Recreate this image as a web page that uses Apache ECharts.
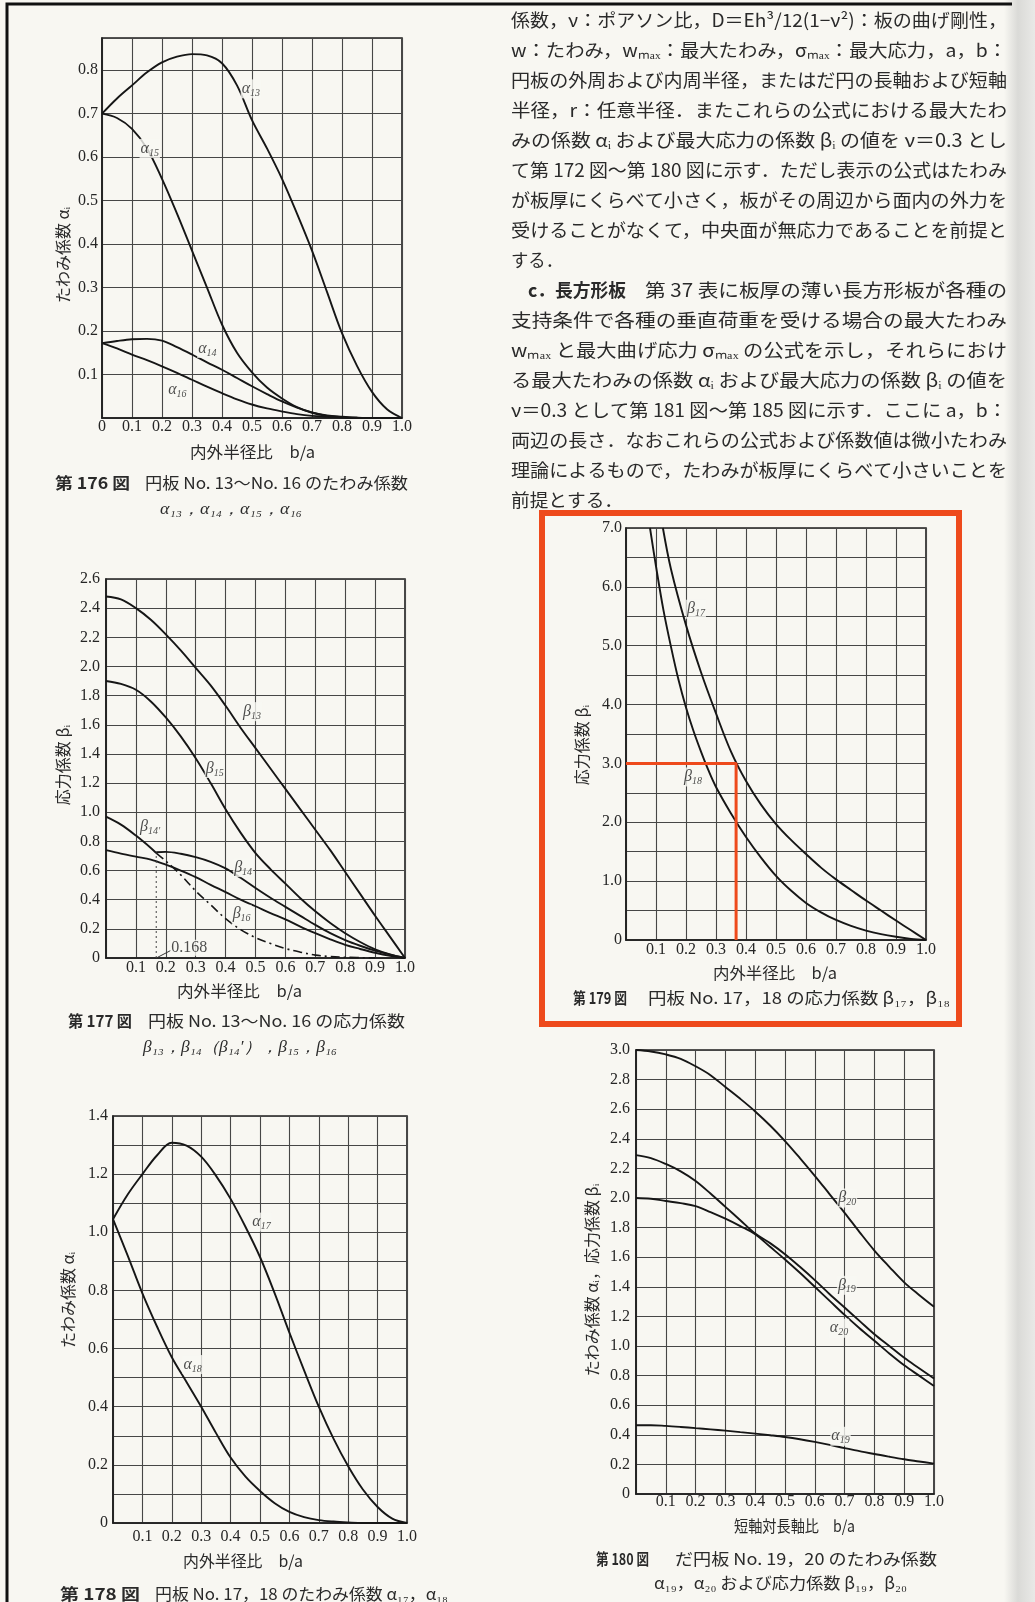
<!DOCTYPE html>
<html><head><meta charset="utf-8">
<script src="https://cdn.jsdelivr.net/npm/echarts@6/dist/echarts.min.js"></script>
<style>html,body{margin:0;padding:0;background:#f7f6f1;}#c{width:1035px;height:1602px;}</style>
</head><body><div id="c"></div>
<script>
// ================= DATA =================
const X = [0,0.05,0.1,0.15,0.2,0.25,0.3,0.35,0.4,0.45,0.5,0.55,0.6,0.65,0.7,0.75,0.8,0.85,0.9,0.95,1.0];

// Fig.176  deflection coefficients α13..α16
const a13 = [0.700,0.735,0.765,0.795,0.818,0.831,0.837,0.834,0.816,0.765,0.685,0.620,0.550,0.470,0.385,0.290,0.195,0.120,0.060,0.020,0];
const a15 = [0.700,0.690,0.665,0.620,0.550,0.470,0.385,0.300,0.215,0.150,0.105,0.070,0.045,0.025,0.012,0.005,0.002,0,0,0,0];
const a14 = [0.172,0.177,0.181,0.182,0.178,0.163,0.146,0.128,0.111,0.092,0.073,0.055,0.038,0.024,0.013,0.006,0.003,0.001,0,0,0];
const a16 = [0.172,0.160,0.146,0.133,0.119,0.104,0.088,0.072,0.057,0.043,0.031,0.022,0.015,0.009,0.005,0.003,0.001,0,0,0,0];

// Fig.177  stress coefficients β13..β16
const b13 = [2.48,2.46,2.40,2.32,2.22,2.11,1.99,1.87,1.73,1.58,1.44,1.30,1.16,1.02,0.88,0.74,0.59,0.44,0.29,0.145,0];
const b15 = [1.90,1.88,1.84,1.76,1.65,1.52,1.37,1.20,1.02,0.86,0.72,0.61,0.51,0.41,0.32,0.24,0.17,0.11,0.06,0.025,0];
const b16 = [0.74,0.716,0.695,0.675,0.64,0.60,0.555,0.502,0.452,0.40,0.355,0.308,0.265,0.215,0.17,0.128,0.09,0.062,0.036,0.015,0];
const X14s = [0,0.05,0.1,0.15,0.168];
const b14s = [0.97,0.915,0.84,0.755,0.72];           // β14' (valid part)
const X14d = [0.168,0.2,0.25,0.3,0.35,0.4,0.45,0.5,0.55,0.6,0.65,0.7,0.75,0.8,0.9];
const b14d = [0.72,0.665,0.57,0.46,0.365,0.27,0.195,0.14,0.10,0.065,0.04,0.02,0.01,0.005,0]; // β14' continuation
const X14 = [0.168,0.2,0.25,0.3,0.35,0.4,0.45,0.5,0.55,0.6,0.65,0.7,0.75,0.8,0.85,0.9,0.95,1.0];
const b14 = [0.725,0.728,0.715,0.692,0.66,0.615,0.55,0.48,0.413,0.351,0.289,0.227,0.17,0.123,0.084,0.05,0.023,0];
const limit168 = 0.168;

// Fig.178  deflection coefficients α17, α18
const a17 = [1.045,1.13,1.20,1.265,1.308,1.298,1.26,1.195,1.115,1.02,0.915,0.79,0.655,0.525,0.40,0.29,0.195,0.115,0.055,0.015,0];
const a18 = [1.045,0.92,0.79,0.675,0.57,0.485,0.40,0.31,0.225,0.16,0.11,0.068,0.038,0.02,0.01,0.005,0.002,0,0,0,0];

// Fig.179  stress coefficients β17, β18
const X17 = [0.123,0.15,0.2,0.25,0.3,0.35,0.4,0.45,0.5,0.55,0.6,0.65,0.7,0.75,0.8,0.85,0.9,0.95,1.0];
const b17 = [7.0,6.3,5.35,4.55,3.85,3.2,2.7,2.3,1.97,1.7,1.46,1.23,1.03,0.85,0.67,0.5,0.33,0.165,0];
const X18 = [0.08,0.1,0.125,0.15,0.175,0.2,0.225,0.25,0.275,0.3,0.35,0.4,0.45,0.5,0.55,0.6,0.65,0.7,0.75,0.8,0.85,0.9,0.95,1.0];
const b18 = [7.0,6.35,5.6,4.98,4.42,3.95,3.55,3.2,2.88,2.6,2.15,1.75,1.4,1.09,0.84,0.63,0.47,0.34,0.24,0.16,0.10,0.055,0.02,0];
const readX = [0,0.367,0.367];
const readY = [3.0,3.0,0];

// Fig.180  elliptic plate α19, α20, β19, β20
const b20 = [3.0,2.99,2.97,2.94,2.89,2.83,2.75,2.67,2.585,2.49,2.385,2.27,2.15,2.025,1.9,1.77,1.645,1.535,1.43,1.345,1.265];
const b19 = [2.29,2.27,2.23,2.18,2.115,2.03,1.94,1.85,1.76,1.695,1.62,1.535,1.445,1.35,1.26,1.17,1.08,1.0,0.92,0.85,0.78];
const a20 = [2.0,1.995,1.98,1.965,1.945,1.905,1.86,1.81,1.755,1.67,1.585,1.495,1.40,1.305,1.21,1.12,1.035,0.95,0.87,0.80,0.73];
const a19 = [0.465,0.465,0.46,0.453,0.445,0.437,0.428,0.418,0.408,0.397,0.385,0.37,0.352,0.332,0.31,0.29,0.27,0.252,0.235,0.22,0.205];

// curve labels [greek, subscript, x, y]
const lab176 = [['α','13',0.462,0.757],['α','15',0.125,0.62],['α','14',0.317,0.16],['α','16',0.217,0.065]];
const lab177 = [['β','13',0.455,1.69],['β','15',0.33,1.30],['β','14′',0.11,0.90],['β','14',0.425,0.62],['β','16',0.42,0.30]];
const lab178 = [['α','17',0.47,1.035],['α','18',0.236,0.545]];
const lab179 = [['β','17',0.20,5.62],['β','18',0.19,2.77]];
const lab180 = [['β','20',0.675,2.0],['β','19',0.674,1.41],['α','20',0.647,1.12],['α','19',0.652,0.39]];

// ================= TEXT =================
const para = [
 '係数，ν：ポアソン比，D＝Eh³/12(1−ν²)：板の曲げ剛性，',
 'w：たわみ，wₘₐₓ：最大たわみ，σₘₐₓ：最大応力，a，b：',
 '円板の外周および内周半径，またはだ円の長軸および短軸',
 '半径，r：任意半径．またこれらの公式における最大たわ',
 'みの係数 αᵢ および最大応力の係数 βᵢ の値を ν＝0.3 とし',
 'て第 172 図～第 180 図に示す．ただし表示の公式はたわみ',
 'が板厚にくらべて小さく，板がその周辺から面内の外力を',
 '受けることがなくて，中央面が無応力であることを前提と',
 'する．',
 '第 37 表に板厚の薄い長方形板が各種の',
 '支持条件で各種の垂直荷重を受ける場合の最大たわみ',
 'wₘₐₓ と最大曲げ応力 σₘₐₓ の公式を示し，それらにおけ',
 'る最大たわみの係数 αᵢ および最大応力の係数 βᵢ の値を',
 'ν＝0.3 として第 181 図～第 185 図に示す．ここに a，b：',
 '両辺の長さ．なおこれらの公式および係数値は微小たわみ',
 '理論によるもので，たわみが板厚にくらべて小さいことを',
 '前提とする．'
];
const headC = 'c．長方形板';

// ================= BUILD =================
const PAPER = '#f8f7f2', INK = '#161616', GRIDC = '#474747';
const zip = (xs, ys) => xs.map((x, i) => [x, ys[i]]);
const cv = document.createElement('canvas').getContext('2d');
const JP = '"Noto Sans CJK JP"', SERIF = '"Liberation Serif","DejaVu Serif",serif';

function textEl(str, x, y, o) {
  o = o || {};
  const font = (o.fstyle || 'normal') + ' ' + (o.weight || 'normal') + ' ' + (o.size || 16) + 'px ' + (o.family || JP);
  let sx = 1;
  if (o.width) { cv.font = font; sx = o.width / cv.measureText(str).width; }
  const al = o.align || 'left';
  return { type: 'text', x: x, y: y, rotation: o.rot || 0, scaleX: sx, scaleY: 1, originX: 0, originY: 0,
    silent: true, z: 50,
    style: { text: str, font: font, fill: o.color || '#2a2a2a', align: al, textAlign: al,
             verticalAlign: 'middle', textVerticalAlign: 'middle' } };
}

const grids = [
  { left: 102, top: 38,   width: 300, height: 380 }, // 176
  { left: 106, top: 579,  width: 299, height: 379 }, // 177
  { left: 113, top: 1116, width: 294, height: 407 }, // 178
  { left: 626, top: 528,  width: 300, height: 412 }, // 179
  { left: 636, top: 1050, width: 298, height: 444 }  // 180
].map(g => Object.assign(g, { show: true, borderColor: '#1e1e1e', borderWidth: 1.6, backgroundColor: 'transparent', outerBoundsMode: 'none', containLabel: false }));

function xAx(gi, showZero, margin) {
  return { type: 'value', gridIndex: gi, min: 0, max: 1, interval: 0.1,
    axisLine: { show: true, lineStyle: { color: '#1e1e1e', width: 1.6 } }, axisTick: { show: false },
    splitLine: { show: true, lineStyle: { color: GRIDC, width: 1.1 } },
    axisLabel: { margin: margin, fontFamily: SERIF, fontSize: 16, color: '#262626',
      formatter: v => (Math.abs(v) < 1e-9 ? (showZero ? '0' : '') : v.toFixed(1)) } };
}
function yAx(gi, max, interval, minor, showZero, margin, top) {
  return { type: 'value', gridIndex: gi, min: 0, max: max, interval: interval,
    axisLine: { show: true, lineStyle: { color: '#1e1e1e', width: 1.6 } }, axisTick: { show: false },
    splitLine: { show: true, lineStyle: { color: GRIDC, width: 1.1 } },
    minorTick: { show: false, splitNumber: 2 },
    minorSplitLine: { show: minor, lineStyle: { color: GRIDC, width: 1.1 } },
    axisLabel: { margin: margin, fontFamily: SERIF, fontSize: 16, color: '#262626', showMaxLabel: true,
      formatter: v => (Math.abs(v) < 1e-9 ? (showZero ? '0' : '') : (v > top + 1e-6 ? '' : v.toFixed(1))) } };
}

const xAxis = [xAx(0, true, 1), xAx(1, false, 2), xAx(2, false, 6), xAx(3, false, 2), xAx(4, false, 0)];
const yAxis = [
  yAx(0, 0.874, 0.1, false, false, 4, 0.8),
  yAx(1, 2.6, 0.2, false, true, 6, 2.6),
  yAx(2, 1.4, 0.2, true, true, 5, 1.4),
  yAx(3, 7.0, 1.0, true, true, 4, 7.0),
  yAx(4, 3.0, 0.2, false, true, 6, 3.0)
];

const series = [];
function curve(gi, xs, ys, extra) {
  series.push(Object.assign({ type: 'line', xAxisIndex: gi, yAxisIndex: gi, data: zip(xs, ys),
    showSymbol: false, symbol: 'none', smooth: 0.35, silent: true, z: 3,
    lineStyle: { color: INK, width: 1.9 } }, extra || {}));
}
const richLab = {
  g: { fontFamily: SERIF, fontStyle: 'italic', fontSize: 16, color: '#1e1e1e' },
  s: { fontFamily: SERIF, fontStyle: 'italic', fontSize: 10, color: '#1e1e1e', padding: [9, 0, 0, 0] }
};
function labels(gi, arr) {
  series.push({ type: 'scatter', xAxisIndex: gi, yAxisIndex: gi, silent: true, z: 6,
    symbolSize: 0.1, itemStyle: { color: 'transparent' },
    data: arr.map(a => ({ value: [a[2], a[3]], name: a[0] + '|' + a[1] })),
    label: { show: true, position: 'right', distance: 0,
      formatter: p => { const q = p.name.split('|'); return '{g|' + q[0] + '}{s|' + q[1] + '}'; },
      rich: richLab, backgroundColor: PAPER, padding: [0, 1] } });
}
// 176
curve(0, X, a13); curve(0, X, a15); curve(0, X, a14); curve(0, X, a16); labels(0, lab176);
// 177
curve(1, X, b13); curve(1, X, b15); curve(1, X, b16);
curve(1, X14s, b14s); curve(1, X14, b14);
curve(1, X14d, b14d, { lineStyle: { color: INK, width: 1.6, type: [9, 4, 2, 4] } });
curve(1, [limit168, limit168], [0, 0.72], { smooth: false, lineStyle: { color: '#444', width: 1, type: [2, 3] } });
curve(1, [0.172, 0.215], [0.004, 0.05], { smooth: false, lineStyle: { color: '#333', width: 1 } });
labels(1, lab177);
series.push({ type: 'scatter', xAxisIndex: 1, yAxisIndex: 1, silent: true, z: 6, symbolSize: 0.1,
  itemStyle: { color: 'transparent' }, data: [{ value: [0.218, 0.07], name: String(limit168) }],
  label: { show: true, position: 'right', distance: 0, formatter: p => p.name, fontFamily: SERIF,
    fontSize: 16, color: '#222', backgroundColor: PAPER } });
// 178
curve(2, X, a17); curve(2, X, a18); labels(2, lab178);
// 179
curve(3, X17, b17); curve(3, X18, b18);
curve(3, readX, readY, { smooth: false, z: 4, lineStyle: { color: '#ee4a1c', width: 3 } });
labels(3, lab179);
// 180
curve(4, X, b20); curve(4, X, b19); curve(4, X, a20); curve(4, X, a19); labels(4, lab180);

// graphics: page frame, shading, text, captions, axis names, red box
const g = [];
g.push({ type: 'rect', shape: { x: 1004, y: 0, width: 31, height: 1602 }, silent: true, z: 1,
  style: { fill: new echarts.graphic.LinearGradient(0, 0, 1, 0, [
    { offset: 0, color: PAPER }, { offset: 0.45, color: '#dadad7' }, { offset: 1, color: '#e9e9e7' }]) } });
g.push({ type: 'polyline', shape: { points: [[7, 1602], [7, 4], [1012, 4]] }, silent: true, z: 40,
  style: { stroke: '#111', lineWidth: 3, fill: null } });

// paragraph
para.forEach((s, i) => {
  const y = 20 + 30 * i;
  if (i === 9) {
    g.push(textEl(headC, 528, y, { size: 18, weight: 'bold', width: 98 }));
    g.push(textEl(s, 645, y, { size: 18, width: 362 }));
  } else if (i === 8 || i === 16) {
    g.push(textEl(s, 511, y, { size: 18, width: i === 8 ? 52 : 112 }));
  } else {
    g.push(textEl(s, 511, y, { size: 18, width: 496 }));
  }
});

// captions
g.push(textEl('第 176 図', 55, 483, { size: 16, weight: 'bold', width: 75 }));
g.push(textEl('円板 No. 13～No. 16 のたわみ係数', 145, 483, { size: 16, width: 263 }));
g.push(textEl('α₁₃，α₁₄，α₁₅，α₁₆', 160, 510, { size: 16, family: SERIF, fstyle: 'italic', width: 142 }));
g.push(textEl('第 177 図', 68, 1021, { size: 16, weight: 'bold', width: 64 }));
g.push(textEl('円板 No. 13～No. 16 の応力係数', 148, 1021, { size: 16, width: 257 }));
g.push(textEl('β₁₃，β₁₄（β₁₄′），β₁₅，β₁₆', 143, 1048, { size: 16, family: SERIF, fstyle: 'italic', width: 194 }));
g.push(textEl('第 179 図', 573, 998, { size: 16, weight: 'bold', width: 54 }));
g.push(textEl('円板 No. 17，18 の応力係数 β₁₇，β₁₈', 648, 998, { size: 16, width: 302 }));
g.push(textEl('第 178 図', 60, 1594, { size: 16, weight: 'bold', width: 80 }));
g.push(textEl('円板 No. 17，18 のたわみ係数 α₁₇，α₁₈', 155, 1594, { size: 16, width: 293 }));
g.push(textEl('第 180 図', 596, 1559, { size: 16, weight: 'bold', width: 53 }));
g.push(textEl('だ円板 No. 19，20 のたわみ係数', 675, 1559, { size: 16, width: 262 }));
g.push(textEl('α₁₉，α₂₀ および応力係数 β₁₉，β₂₀', 654, 1583, { size: 16, width: 253 }));

// x-axis names
g.push(textEl('内外半径比　b/a', 190, 452, { size: 16, width: 125 }));
g.push(textEl('内外半径比　b/a', 177, 991, { size: 16, width: 125 }));
g.push(textEl('内外半径比　b/a', 713, 973, { size: 16, width: 124 }));
g.push(textEl('内外半径比　b/a', 183, 1561, { size: 16, width: 120 }));
g.push(textEl('短軸対長軸比　b/a', 734, 1526, { size: 16, width: 121 }));

// y-axis names (rotated)
g.push(textEl('たわみ係数 αᵢ', 63, 255, { size: 16, rot: Math.PI / 2, align: 'center' }));
g.push(textEl('応力係数 βᵢ', 63, 765, { size: 16, rot: Math.PI / 2, align: 'center' }));
g.push(textEl('応力係数 βᵢ', 582, 745, { size: 16, rot: Math.PI / 2, align: 'center' }));
g.push(textEl('たわみ係数 αᵢ', 68, 1300, { size: 16, rot: Math.PI / 2, align: 'center' }));
g.push(textEl('たわみ係数 αᵢ，応力係数 βᵢ', 592, 1280, { size: 16, rot: Math.PI / 2, align: 'center' }));

// red highlight box
g.push({ type: 'rect', shape: { x: 542, y: 513, width: 417, height: 511 }, silent: true, z: 60,
  style: { fill: null, stroke: '#ee4a1c', lineWidth: 6 } });

const chart = echarts.init(document.getElementById('c'), null, { renderer: 'canvas', width: 1035, height: 1602 });
chart.setOption({
  backgroundColor: PAPER,
  animation: false,
  grid: grids, xAxis: xAxis, yAxis: yAxis, series: series,
  graphic: { elements: g }
});
</script></body></html>
